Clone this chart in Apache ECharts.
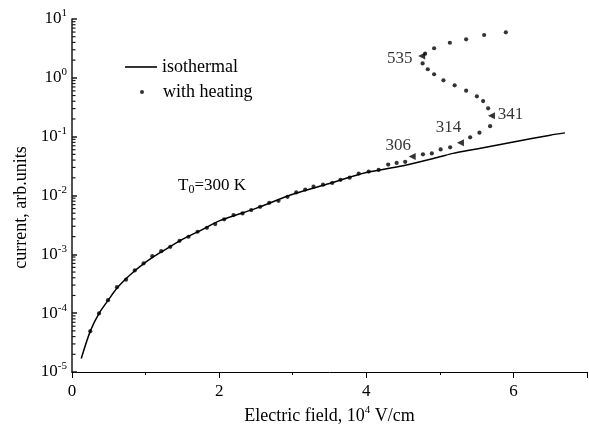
<!DOCTYPE html>
<html><head><meta charset="utf-8">
<script src="https://cdn.jsdelivr.net/npm/echarts@6/dist/echarts.min.js"></script>
<style>html,body{margin:0;padding:0;background:#fff}#c{width:589px;height:437px}</style>
</head><body><div id="c"></div>
<script>
// Isothermal curve (E in 10^4 V/cm, current arb. units)
const isoX = [0.126,0.25,0.37,0.49,0.61,0.73,0.85,0.97,1.1,1.25,1.5,1.75,2.0,2.5,3.0,3.5,4.0,4.5,5.0,5.18,5.5,6.0,6.5,6.7];
const isoY = [1.7e-5,5.0e-5,1.0e-4,1.65e-4,2.65e-4,3.8e-4,5.2e-4,6.9e-4,9.0e-4,1.17e-3,1.8e-3,2.55e-3,3.7e-3,6.05e-3,1.05e-2,1.6e-2,2.45e-2,3.2e-2,4.55e-2,5.2e-2,6.18e-2,8.1e-2,0.106,0.116];
// With heating (dots), in order along the S-shaped path
const heatX = [0.249,0.367,0.489,0.611,0.734,0.853,0.973,1.091,1.213,1.336,1.462,1.584,1.707,1.834,1.947,2.069,2.196,2.318,2.436,2.558,2.681,2.807,2.929,3.048,3.170,3.283,3.412,3.537,3.649,3.774,3.897,4.033,4.168,4.298,4.413,4.529,
  4.770,4.891,5.011,5.140,
  5.412,5.538,5.683,
  5.656,5.588,5.503,5.357,5.201,5.049,4.922,4.836,4.766,
  4.800,4.922,5.136,5.357,5.602,5.897];
const heatY = [4.94e-5,9.9e-5,1.66e-4,2.77e-4,3.71e-4,5.32e-4,7.0e-4,9.3e-4,1.13e-3,1.34e-3,1.70e-3,1.99e-3,2.42e-3,2.82e-3,3.27e-3,3.93e-3,4.65e-3,4.96e-3,5.65e-3,6.43e-3,7.52e-3,8.13e-3,9.51e-3,1.13e-2,1.26e-2,1.41e-2,1.53e-2,1.63e-2,1.85e-2,2.01e-2,2.36e-2,2.55e-2,2.72e-2,3.36e-2,3.58e-2,3.74e-2,
  5.02e-2,5.20e-2,6.08e-2,6.60e-2,
  9.73e-2,0.117,0.151,
  0.303,0.403,0.484,0.604,0.745,0.907,1.15,1.40,1.76,
  2.57,3.18,3.95,4.52,5.35,5.94];
// Arrow markers with temperatures (K)
const arrowX = [4.624,5.280,5.701,4.753];
const arrowY = [0.0459,0.0787,0.227,2.35];
const arrowT = ['306','314','341','535'];
const arrowOffset = [[-14,-11],[-12,-15],[19,-1],[-22,3]];
// Tick labels
const xTickValues = [0,2,4,6];
const yExponents = [-5,-4,-3,-2,-1,0,1];

const FONT = '"Liberation Serif", "Times New Roman", serif';
const AXC = '#1a1a1a';
// minor tick values of the log axis: k * 10^n, k = 2..9
const minorVals = [];
for (let n = yExponents[0]; n < yExponents[yExponents.length-1]; n++) {
  for (let k = 2; k <= 9; k++) minorVals.push(k * Math.pow(10, n));
}

const chart = echarts.init(document.getElementById('c'), null, {renderer:'canvas'});
chart.setOption({
  animation: false,
  backgroundColor: '#fff',
  textStyle: {fontFamily: FONT, color: '#000'},
  grid: {left: 72, right: 2, top: 19, bottom: 65, containLabel: false},
  xAxis: {
    type: 'value', min: 0, max: 7, interval: 2,
    name: 'Electric field, 10{s|4} V/cm', nameLocation: 'middle', nameGap: 16,
    nameTextStyle: {fontFamily: FONT, fontSize: 18, color: '#000', lineHeight: 22,
      rich: {s: {fontFamily: FONT, fontSize: 11, verticalAlign: 'top', lineHeight: 11, color:'#000'}}},
    axisLine: {show: true, onZero: false, lineStyle: {color: '#000', width: 1}},
    axisTick: {show: true, inside: false, length: 6, lineStyle: {color: '#000'}},
    minorTick: {show: true, splitNumber: 2, length: 3, lineStyle: {color: '#000'}},
    splitLine: {show: false},
    axisLabel: {fontFamily: FONT, fontSize: 17, color: '#000', margin: 11,
      customValues: xTickValues}
  },
  yAxis: {
    type: 'log', logBase: 10, min: Math.pow(10, yExponents[0]), max: Math.pow(10, yExponents[yExponents.length-1]),
    splitNumber: 6,
    name: 'current, arb.units', nameLocation: 'middle', nameGap: 41,
    nameTextStyle: {fontFamily: FONT, fontSize: 18, color: '#000', padding: [0, 24, 0, 0]},
    axisLine: {show: true, onZero: false, lineStyle: {color: AXC, width: 1.5}},
    axisTick: {show: true, inside: true, length: 5, lineStyle: {color: AXC, width: 1.5}},
    splitLine: {show: false},
    axisLabel: {
      margin: 5,
      formatter: v => '{b|10}{s|' + Math.round(Math.log10(v)) + '}',
      rich: {
        b: {fontFamily: FONT, fontSize: 17, lineHeight: 22, color: '#000'},
        s: {fontFamily: FONT, fontSize: 11, lineHeight: 11, verticalAlign: 'top', color: '#000'}
      }
    }
  },
  legend: [{
    data: [{name: 'isothermal', icon: 'rect'}], left: 125, top: 57, padding: 0, itemWidth: 32, itemHeight: 1.6,
    itemStyle: {color: '#000', borderWidth: 0},
    textStyle: {fontFamily: FONT, fontSize: 18, color: '#000', lineHeight: 20}
  }, {
    data: [{name: 'with heating', icon: 'circle'}], left: 140, top: 82, padding: 0, itemWidth: 4, itemHeight: 4,
    textStyle: {fontFamily: FONT, fontSize: 18, color: '#000', lineHeight: 20, padding: [0,0,0,14]}
  }],
  graphic: [{
    type: 'text', left: 178, top: 177,
    style: {text: '{b|T}{s|0}{b|=300 K}', fill: '#000',
      rich: {
        b: {fontFamily: FONT, fontSize: 17, lineHeight: 20, fill: '#000'},
        s: {fontFamily: FONT, fontSize: 12, lineHeight: 12, verticalAlign: 'bottom', fill: '#000'}
      }}
  }],
  series: [{
    name: 'isothermal', type: 'line', symbol: 'none', smooth: 0.3,
    lineStyle: {color: '#000', width: 1.5}, itemStyle: {color: '#000'},
    data: isoX.map((x, i) => [x, isoY[i]]), z: 2
  }, {
    name: 'with heating', type: 'scatter', symbol: 'circle', symbolSize: 4.2,
    itemStyle: {color: '#000'},
    data: heatX.map((x, i) => [x, heatY[i]]), z: 3
  }, {
    name: 'arrows', type: 'scatter', symbol: 'triangle', symbolSize: 7, symbolRotate: 90,
    itemStyle: {color: '#000'},
    label: {show: true, position: 'inside', fontFamily: FONT, fontSize: 17, color: '#000'},
    data: arrowX.map((x, i) => ({value: [x, arrowY[i]],
      label: {formatter: arrowT[i], offset: arrowOffset[i]}})), z: 3
  }, {
    name: 'yMinorTicks', type: 'custom', silent: true, clip: false,
    data: minorVals.map(v => [0, v]),
    renderItem: (params, api) => {
      const p = api.coord([0, api.value(1)]);
      return {type: 'line', shape: {x1: p[0], y1: p[1], x2: p[0] + 3.5, y2: p[1]},
        style: {stroke: AXC, lineWidth: 1.2}};
    }, z: 1
  }]
});
</script></body></html>
